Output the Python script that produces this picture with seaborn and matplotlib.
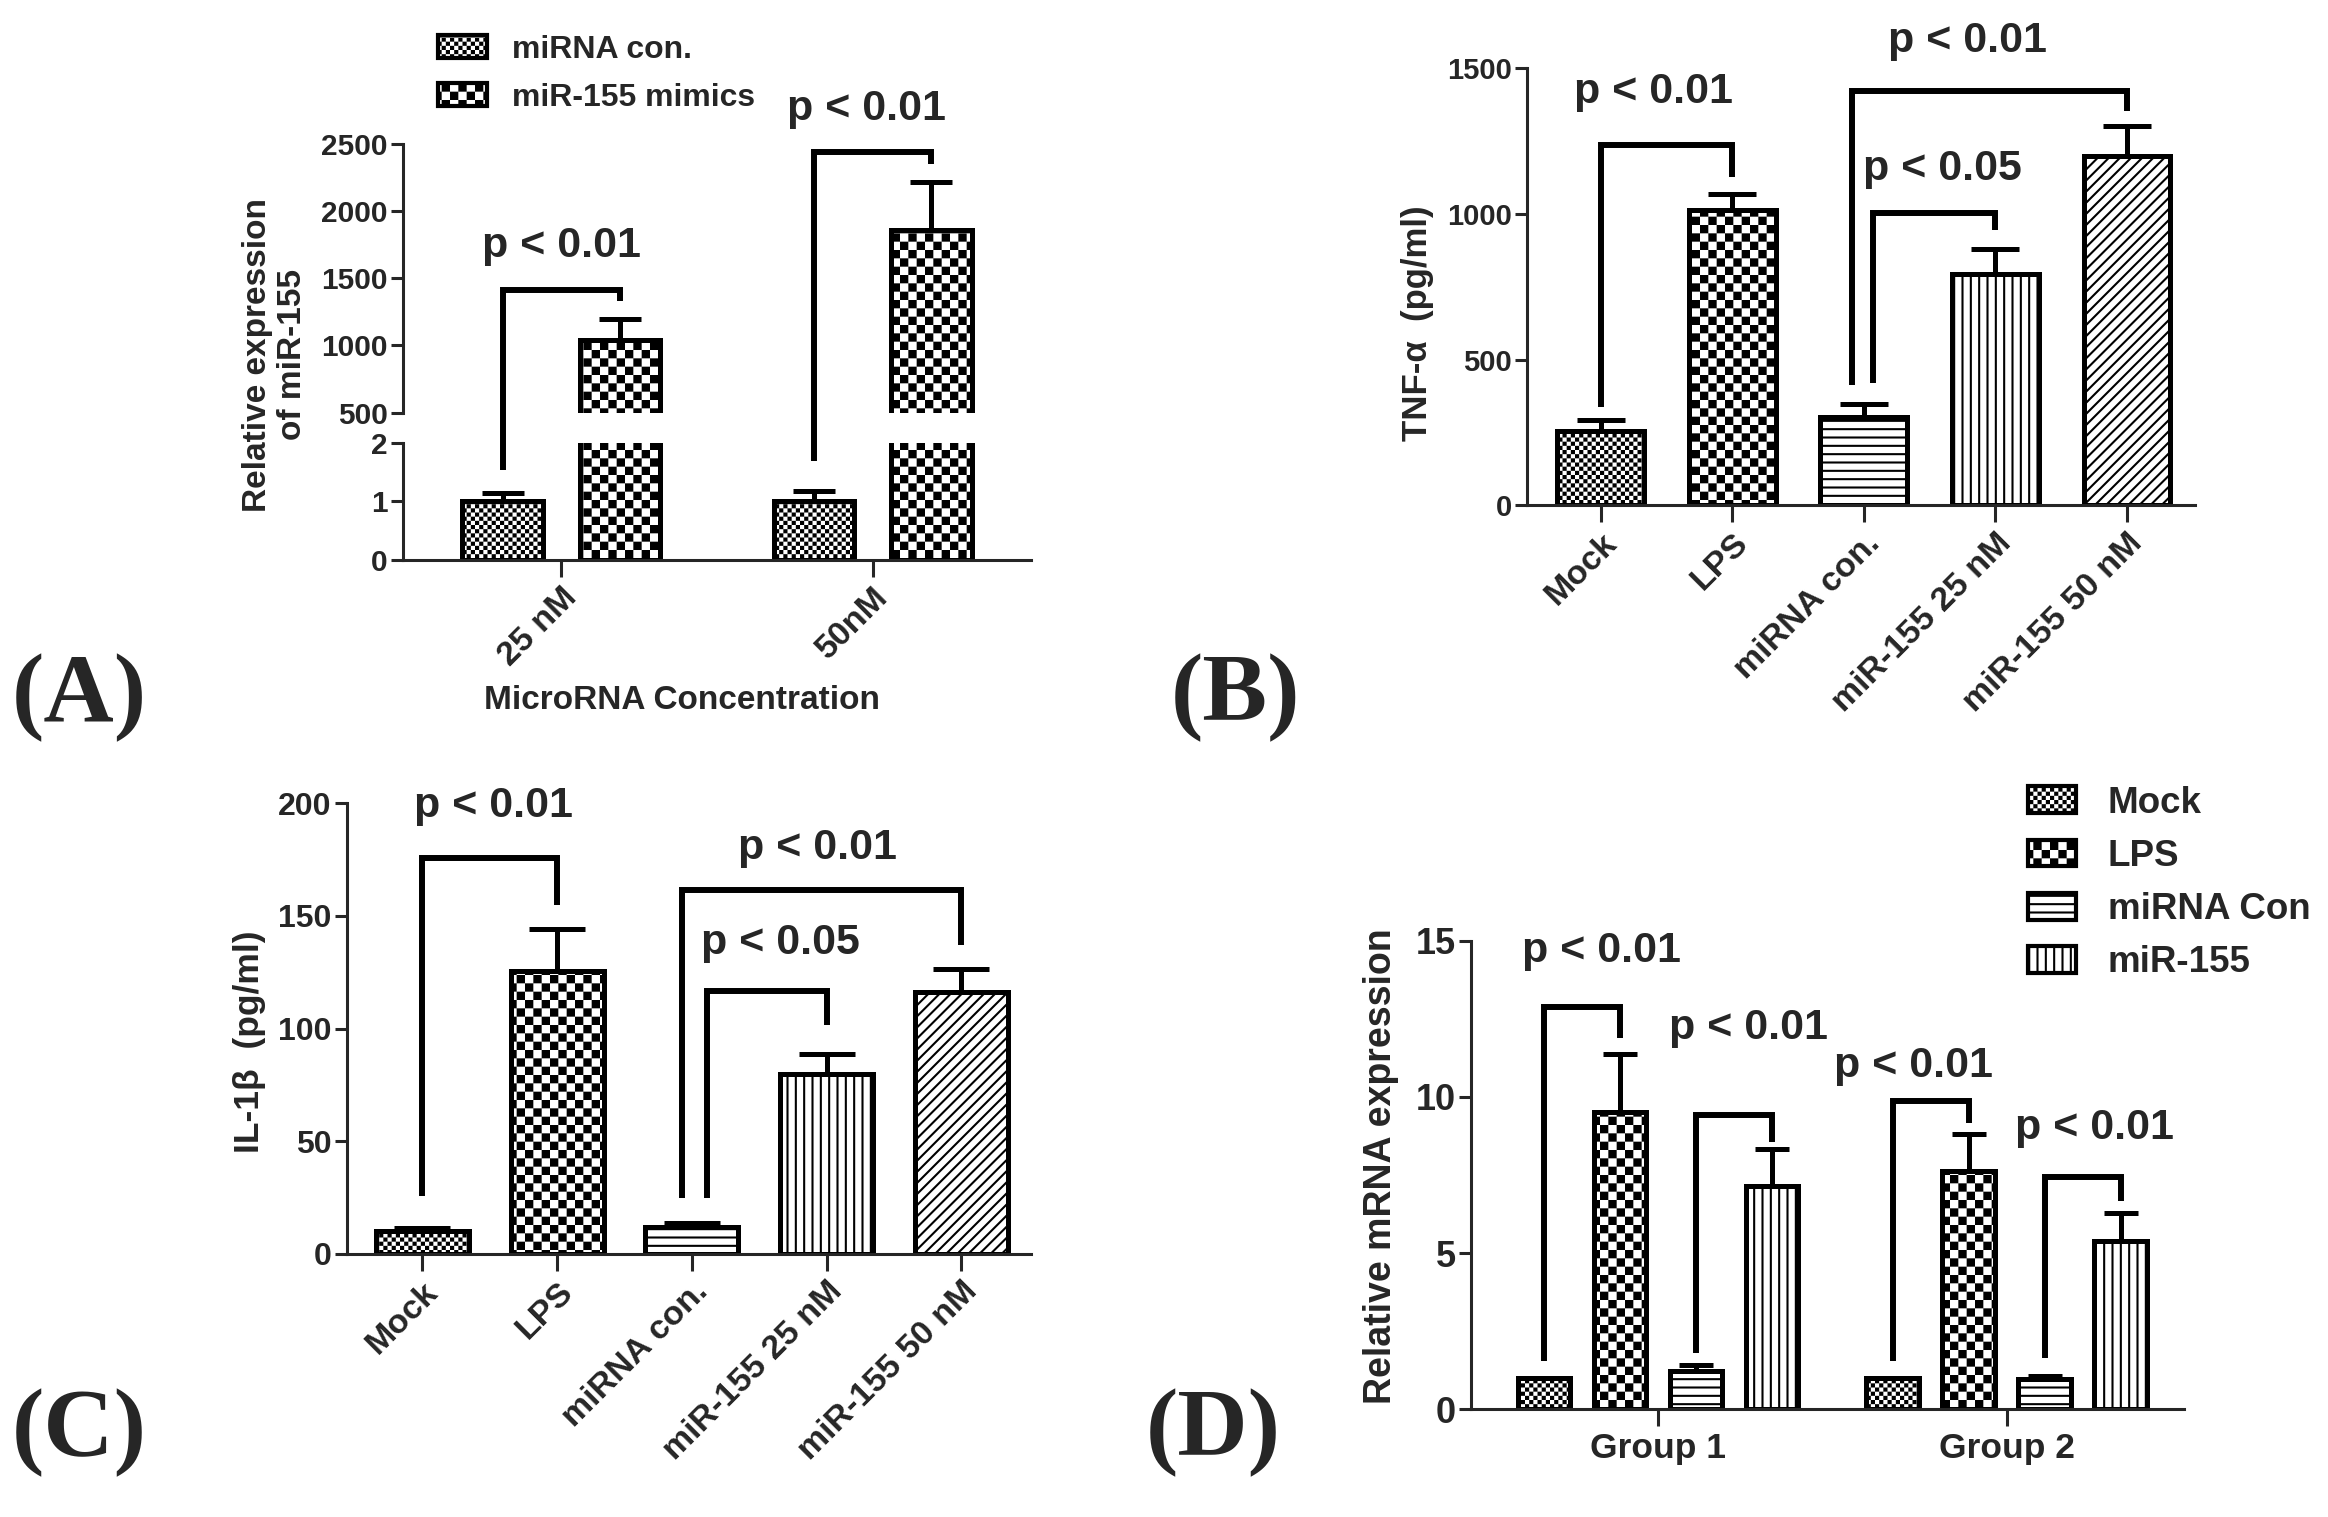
import warnings
warnings.filterwarnings('ignore')
import numpy as np
import pandas as pd
import matplotlib
matplotlib.use('Agg')
import matplotlib.pyplot as plt
import matplotlib.hatch as mhatch
import matplotlib.patches as mpatches
from matplotlib.container import BarContainer
from matplotlib.path import Path
import seaborn as sns

# ---------------- data ----------------
a_conc = ['25 nM', '50nM']
a_groups = ['miRNA con.', 'miR-155 mimics']
a_con_mean = [1.0, 1.0]
a_con_err = [0.15, 0.17]
a_mim_mean = [1040, 1860]
a_mim_err = [160, 360]

b_cats = ['Mock', 'LPS', 'miRNA con.', 'miR-155 25 nM', 'miR-155 50 nM']
b_mean = [253, 1015, 303, 792, 1198]
b_err = [39, 55, 45, 86, 105]

c_cats = ['Mock', 'LPS', 'miRNA con.', 'miR-155 25 nM', 'miR-155 50 nM']
c_mean = [10.3, 125.4, 11.8, 79.6, 116.0]
c_err = [1.0, 19.0, 2.0, 9.2, 10.5]

d_groups = ['Group 1', 'Group 2']
d_series = ['Mock', 'LPS', 'miRNA Con', 'miR-155']
d_mock = [1.0, 1.0]
d_lps = [9.52, 7.64]
d_con = [1.24, 0.96]
d_mir = [7.14, 5.40]
d_mock_err = [0.0, 0.0]
d_lps_err = [1.85, 1.16]
d_con_err = [0.19, 0.10]
d_mir_err = [1.20, 0.89]

p01 = 'p < 0.01'
p05 = 'p < 0.05'

# ---------------- style ----------------
DPI = 100
sns.set_style('ticks')
plt.rcParams['font.family'] = ['Liberation Sans', 'DejaVu Sans']
plt.rcParams['font.weight'] = 'bold'
plt.rcParams['axes.labelweight'] = 'bold'
plt.rcParams['hatch.linewidth'] = 1.5
plt.rcParams['hatch.color'] = 'black'


class CheckerHatch(mhatch.HatchPatternBase):
    """Checkerboard hatch, triggered by 'O' in the hatch string."""
    def __init__(self, hatch, density):
        self.n = hatch.count('O') * density
        self.num_vertices = 10 * self.n * self.n

    def set_vertices_and_codes(self, vertices, codes):
        n = self.n
        half = 1.0 / (2 * n)
        lw = plt.rcParams['hatch.linewidth'] / 72.0
        s = max(half - lw, half * 0.35)
        pad = (half - s) / 2
        k = 0
        for i in range(n):
            for j in range(n):
                for ox, oy in ((0.0, 0.0), (half, half)):
                    x0 = i / n + ox + pad
                    y0 = j / n + oy + pad
                    vertices[k:k + 5] = [(x0, y0), (x0 + s, y0), (x0 + s, y0 + s),
                                         (x0, y0 + s), (x0, y0)]
                    codes[k:k + 5] = [Path.MOVETO, Path.LINETO, Path.LINETO,
                                      Path.LINETO, Path.CLOSEPOLY]
                    k += 5


mhatch._hatch_types[:] = [CheckerHatch if t is mhatch.LargeCircles else t
                          for t in mhatch._hatch_types]

H_FINE = 'OO'      # fine checker (Mock / miRNA con. in A)
H_CHECK = 'O'      # checkerboard (LPS / mimics)
H_HORIZ = '--'
H_VERT = '||'
H_DIAG = '///'

EDGE = 3.6
SPINE = 2.2
BR_LW = 4.3
P_FS = 31
CAT_FS = 24.5

fig = plt.figure(figsize=(23.28, 15.17), dpi=DPI)


def style_axes(ax, ysize, xsize):
    for s in ['top', 'right']:
        ax.spines[s].set_visible(False)
    for s in ['left', 'bottom']:
        ax.spines[s].set_linewidth(SPINE)
    ax.tick_params(axis='y', width=SPINE, length=9, labelsize=ysize, pad=2)
    ax.tick_params(axis='x', width=SPINE, length=12, labelsize=xsize, pad=4)


def bars_of(ax):
    return [c for c in ax.containers if isinstance(c, BarContainer)]


def centers(ax):
    return [[p.get_x() + p.get_width() / 2 for p in c] for c in bars_of(ax)]


def add_err(ax, xs, ys, errs, cap):
    ax.errorbar(xs, ys, yerr=[np.zeros(len(errs)), np.asarray(errs, float)],
                fmt='none', ecolor='black', elinewidth=EDGE, capsize=cap,
                capthick=EDGE, zorder=0.5)


def bracket(ax, x1, x2, y1, h, y2, label, ty, tdx=0.0):
    ax.plot([x1, x1, x2, x2], [y1, h, h, y2], color='black', lw=BR_LW,
            clip_on=False, solid_joinstyle='miter', solid_capstyle='butt')
    ax.text((x1 + x2) / 2 + tdx, ty, label, ha='center', va='center',
            fontsize=P_FS, fontweight='bold', clip_on=False)


def panel_label(x, y, s):
    fig.text(x, y, s, family='Liberation Serif', fontweight='bold',
             fontsize=70, ha='left', va='center')


# ---------------- Panel A (broken axis) ----------------
dfA = pd.DataFrame({
    'conc': a_conc * 2,
    'group': [a_groups[0]] * 2 + [a_groups[1]] * 2,
    'value': a_con_mean + a_mim_mean,
})
axA_lo = fig.add_axes([0.173, 0.631, 0.270, 0.077])
axA_hi = fig.add_axes([0.173, 0.728, 0.270, 0.177])
for ax in (axA_lo, axA_hi):
    sns.barplot(data=dfA, x='conc', y='value', hue='group', order=a_conc,
                hue_order=a_groups, palette=['white', 'white'], saturation=1,
                edgecolor='black', linewidth=EDGE, width=0.756, gap=0.317,
                errorbar=None, legend=False, ax=ax)
    for cont, hatch in zip(bars_of(ax), [H_FINE, H_CHECK]):
        for bar in cont:
            bar.set_hatch(hatch)
    cA = centers(ax)
    add_err(ax, cA[0], a_con_mean, a_con_err, 15)
    add_err(ax, cA[1], a_mim_mean, a_mim_err, 15)
    ax.set_xlim(-0.51, 1.51)
    style_axes(ax, 21.5, CAT_FS)

axA_lo.set_ylim(0, 2)
axA_lo.set_yticks([0, 1, 2])
axA_hi.set_ylim(500, 2500)
axA_hi.set_yticks([500, 1000, 1500, 2000, 2500])
axA_hi.spines['bottom'].set_visible(False)
axA_hi.tick_params(axis='x', bottom=False, labelbottom=False)
axA_hi.set_xlabel('')
axA_hi.set_ylabel('')
axA_lo.set_xticks(range(len(a_conc)))
axA_lo.set_xticklabels(a_conc, rotation=45, ha='right', rotation_mode='anchor')
axA_lo.set_xlabel('MicroRNA Concentration', fontsize=24)
axA_lo.xaxis.set_label_coords(0.293, 0.538, transform=fig.transFigure)
axA_lo.xaxis.label.set_va('center')
axA_lo.set_ylabel('Relative expression\nof miR-155', fontsize=24, linespacing=1.15)
axA_lo.yaxis.set_label_coords(0.118, 0.766, transform=fig.transFigure)
axA_lo.yaxis.label.set_va('center')

cA = centers(axA_hi)
bracket(axA_hi, cA[0][0], cA[1][0], 76, 1417, 1335, p01, 1741)
bracket(axA_hi, cA[0][1], cA[1][1], 140, 2442, 2353, p01, 2759, -0.02)

legA = [mpatches.Patch(facecolor='white', edgecolor='black', hatch=h, linewidth=3)
        for h in [H_FINE, H_CHECK]]
fig.legend(legA, a_groups, loc='upper left', bbox_to_anchor=(0.188, 0.977),
           frameon=False, fontsize=23, handlelength=1.53, handleheight=0.75,
           handletextpad=0.8, labelspacing=0.56, borderpad=0, borderaxespad=0)
panel_label(0.005, 0.540, '(A)')


# ---------------- Panels B and C ----------------
def single_panel(rect, cats, means, errs, ylim, yticks, ylabel, lab_xy,
                 cap, brackets, ysize, lsize, width):
    ax = fig.add_axes(rect)
    df = pd.DataFrame({'cat': cats, 'value': means})
    sns.barplot(data=df, x='cat', y='value', order=cats, color='white',
                saturation=1, edgecolor='black', linewidth=EDGE, width=width,
                errorbar=None, ax=ax)
    for bar, h in zip(bars_of(ax)[0], [H_FINE, H_CHECK, H_HORIZ, H_VERT, H_DIAG]):
        bar.set_hatch(h)
    cx = centers(ax)[0]
    add_err(ax, cx, means, errs, cap)
    ax.set_ylim(*ylim)
    ax.set_yticks(yticks)
    ax.set_xlim(-0.56, 4.52)
    style_axes(ax, ysize, CAT_FS)
    ax.set_xticks(range(len(cats)))
    ax.set_xticklabels(cats, rotation=45, ha='right', rotation_mode='anchor')
    ax.set_xlabel('')
    ax.set_ylabel(ylabel, fontsize=lsize)
    ax.yaxis.set_label_coords(lab_xy[0], lab_xy[1], transform=fig.transFigure)
    ax.yaxis.label.set_va('center')
    for (i, j, xo1, y1, h, y2, lab, ty, tdx) in brackets:
        bracket(ax, cx[i] + xo1, cx[j], y1, h, y2, lab, ty, tdx)
    return ax


b_brackets = [
    (0, 1, 0.0, 337, 1235, 1125, p01, 1420, -0.1),
    (2, 3, 0.07, 420, 1003, 945, p05, 1153, 0.06),
    (2, 4, -0.09, 412, 1423, 1353, p01, 1595, -0.17),
]
single_panel([0.656, 0.667, 0.287, 0.288], b_cats, b_mean, b_err, (0, 1500),
             [0, 500, 1000, 1500], 'TNF-α  (pg/ml)', (0.609, 0.787), 17,
             b_brackets, 21, 25, 0.66)
panel_label(0.503, 0.540, '(B)')

c_brackets = [
    (0, 1, 0.0, 25.8, 175.7, 154.8, p01, 198.9, 0.03),
    (2, 3, 0.11, 24.7, 116.6, 101.5, p05, 138, 0.1),
    (2, 4, -0.07, 24.7, 161.3, 137, p01, 180, -0.03),
]
single_panel([0.149, 0.1735, 0.294, 0.297], c_cats, c_mean, c_err, (0, 200),
             [0, 50, 100, 150, 200], 'IL-1β  (pg/ml)', (0.107, 0.313), 20,
             c_brackets, 23, 25.5, 0.69)
panel_label(0.005, 0.0555, '(C)')

# ---------------- Panel D ----------------
dfD = pd.DataFrame({
    'group': d_groups * 4,
    'series': sum([[s] * 2 for s in d_series], []),
    'value': d_mock + d_lps + d_con + d_mir,
})
axD = fig.add_axes([0.632, 0.071, 0.306, 0.309])
sns.barplot(data=dfD, x='group', y='value', hue='series', order=d_groups,
            hue_order=d_series, palette=['white'] * 4, saturation=1,
            edgecolor='black', linewidth=EDGE, width=0.872, gap=0.31,
            errorbar=None, legend=False, ax=axD)
d_hatches = [H_FINE, H_CHECK, H_HORIZ, H_VERT]
for cont, h in zip(bars_of(axD), d_hatches):
    for bar in cont:
        bar.set_hatch(h)
cD = centers(axD)
for k, (m, e) in enumerate([(d_mock, d_mock_err), (d_lps, d_lps_err),
                            (d_con, d_con_err), (d_mir, d_mir_err)]):
    add_err(axD, cD[k], m, e, 12)
axD.set_ylim(0, 15)
axD.set_yticks([0, 5, 10, 15])
axD.set_xlim(-0.536, 1.508)
style_axes(axD, 26, 25.5)
axD.set_xlabel('')
axD.set_ylabel('Relative mRNA expression', fontsize=27)
axD.yaxis.set_label_coords(0.593, 0.231, transform=fig.transFigure)
axD.yaxis.label.set_va('center')
bracket(axD, cD[0][0], cD[1][0], 1.55, 12.86, 11.88, p01, 14.67, 0.055)
bracket(axD, cD[2][0], cD[3][0], 1.79, 9.43, 8.54, p01, 12.19, 0.04)
bracket(axD, cD[0][1], cD[1][1], 1.55, 9.86, 9.16, p01, 11.0, -0.05)
bracket(axD, cD[2][1], cD[3][1], 1.63, 7.42, 6.65, p01, 9.0, 0.035)

legD = [mpatches.Patch(facecolor='white', edgecolor='black', hatch=h, linewidth=3)
        for h in d_hatches]
fig.legend(legD, d_series, loc='upper left', bbox_to_anchor=(0.871, 0.482),
           frameon=False, fontsize=26.5, handlelength=1.32, handleheight=0.75,
           handletextpad=0.85, labelspacing=0.49, borderpad=0, borderaxespad=0)
panel_label(0.492, 0.0555, '(D)')

fig.savefig('out.png', dpi=DPI, facecolor='white')
